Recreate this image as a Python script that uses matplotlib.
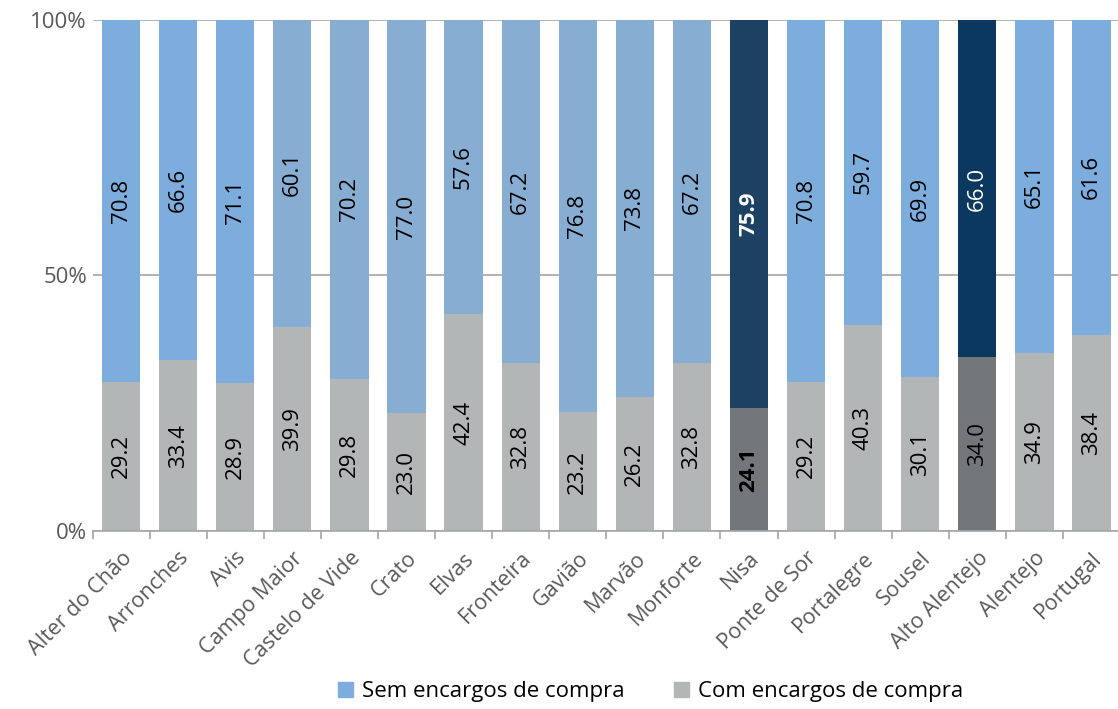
import matplotlib
matplotlib.use('Agg')
import matplotlib.pyplot as plt
import numpy as np

plt.rcParams['font.family'] = ['Open Sans', 'DejaVu Sans']

# Data
categories = ['Alter do Chão', 'Arronches', 'Avis', 'Campo Maior', 'Castelo de Vide', 'Crato',
              'Elvas', 'Fronteira', 'Gavião', 'Marvão', 'Monforte', 'Nisa', 'Ponte de Sor',
              'Portalegre', 'Sousel', 'Alto Alentejo', 'Alentejo', 'Portugal']
sem_encargos = [70.8, 66.6, 71.1, 60.1, 70.2, 77.0, 57.6, 67.2, 76.8, 73.8, 67.2, 75.9,
                70.8, 59.7, 69.9, 66.0, 65.1, 61.6]
com_encargos = [29.2, 33.4, 28.9, 39.9, 29.8, 23.0, 42.4, 32.8, 23.2, 26.2, 32.8, 24.1,
                29.2, 40.3, 30.1, 34.0, 34.9, 38.4]

# Colours per bar
blue = '#7DADDD'
blue_muted = '#88ADD3'
gray = '#B3B6B7'
sem_colors = [blue, blue, blue, blue_muted, blue_muted, blue_muted, blue_muted, blue_muted,
              blue_muted, blue_muted, blue_muted, '#1C4162', blue, blue, blue, '#0A385E',
              blue, blue]
com_colors = [gray] * 18
com_colors[11] = '#73777A'
com_colors[15] = '#73777A'

fig = plt.figure(figsize=(11.18, 7.09), dpi=100)
ax = fig.add_axes([0.0828, 0.251, 0.919, 0.721])

x = np.arange(len(categories))
w = 0.67
ax.bar(x, com_encargos, w, color=com_colors, zorder=2)
ax.bar(x, sem_encargos, w, bottom=com_encargos, color=sem_colors, zorder=2)

for i in x:
    bold = 'bold' if categories[i] == 'Nisa' else 'normal'
    top_color = 'white' if categories[i] in ('Nisa', 'Alto Alentejo') else 'black'
    ax.text(i, com_encargos[i] / 2, f'{com_encargos[i]:.1f}', rotation=90, ha='center',
            va='center', fontsize=16, color='black', fontweight=bold, zorder=3)
    ax.text(i, com_encargos[i] + sem_encargos[i] / 2, f'{sem_encargos[i]:.1f}', rotation=90,
            ha='center', va='center', fontsize=16, color=top_color, fontweight=bold, zorder=3)

ax.set_xlim(-0.5, len(categories) - 0.5)
ax.set_ylim(0, 100)
ax.set_yticks([0, 50, 100])
ax.set_yticklabels(['0%', '50%', '100%'], fontsize=16, color='#595959')
ax.yaxis.grid(True, color='#A6A6A6', linewidth=1.2, zorder=0)
ax.tick_params(axis='y', length=0, pad=4)

ax.set_xticks(x)
ax.set_xticklabels(categories, rotation=45, ha='right', rotation_mode='anchor',
                   fontsize=15.5, color='#595959')
ax.set_xticks(np.arange(-0.5, len(categories), 1), minor=True)
ax.tick_params(axis='x', which='major', length=0, pad=12)
ax.tick_params(axis='x', which='minor', length=6, color='#A6A6A6', width=1.2)

for s in ['top', 'right', 'left']:
    ax.spines[s].set_visible(False)
ax.spines['bottom'].set_color('#A6A6A6')
ax.spines['bottom'].set_linewidth(1.2)

handles = [plt.Rectangle((0, 0), 1, 1, color=blue), plt.Rectangle((0, 0), 1, 1, color=gray)]
fig.legend(handles, ['Sem encargos de compra', 'Com encargos de compra'], loc='center',
           bbox_to_anchor=(0.582, 0.024), ncol=2, frameon=False, fontsize=16,
           handlelength=0.7, handleheight=0.7, columnspacing=2.2, handletextpad=0.4)

fig.savefig('out.png', dpi=100)
